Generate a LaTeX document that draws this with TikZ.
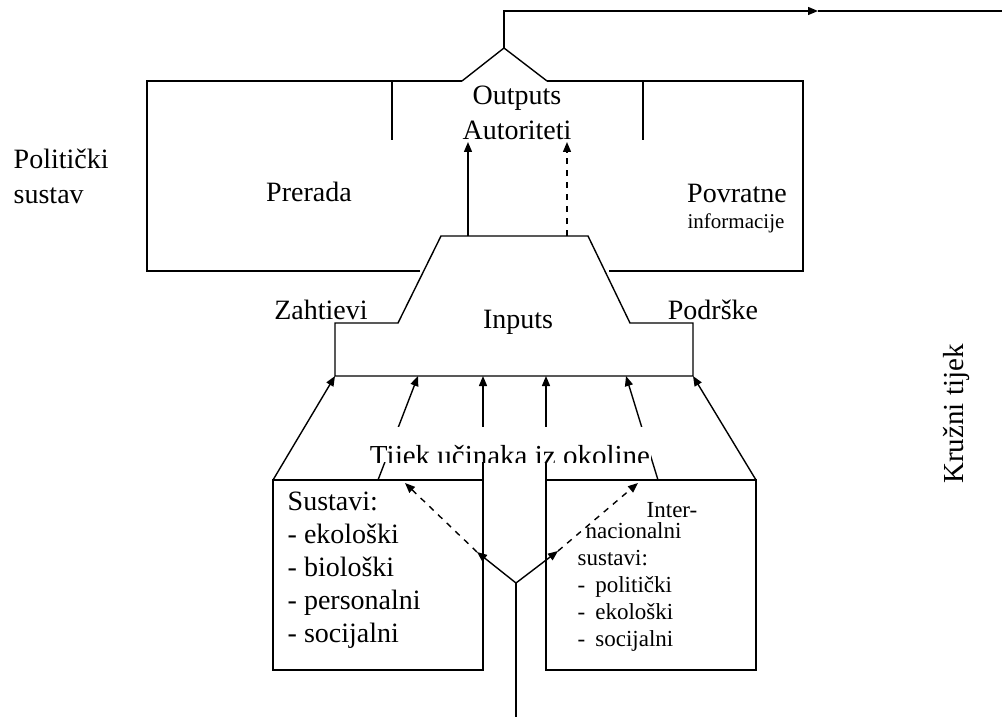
\documentclass[tikz,border=0pt]{standalone}
\usepackage{fontspec}
\setmainfont{Liberation Serif}
\usetikzlibrary{arrows.meta}
\tikzset{
    lbl/.style={font=\fontsize{14}{16.5}\selectfont, inner sep=0pt},
    sml/.style={font=\fontsize{11.5}{13.5}\selectfont, inner sep=0pt},
    tip/.style={-{Triangle[length=5pt,width=4pt]}},
}
\begin{document}
\begin{tikzpicture}[x=0.5pt,y=-0.5pt,line width=0.7pt]
                        \useasboundingbox (0,0) rectangle (1002,717);
                        % top: outputs and the loop back
                        \coordinate (peak) at (504,48);
                        \coordinate (tl) at (462,81);
                        \coordinate (tr) at (547,81);
                        \coordinate (loop) at (504,11);
                        \coordinate (looptip) at (818,11);
                        \coordinate (loopend) at (1002,11);
                        \draw (tl) -- (peak) -- (tr);
                        \draw[tip] (peak) -- (loop) -- (looptip);
                        \draw (looptip) -- (loopend);
                        % political system box
                        \draw (tl) -- (147,81) -- (147,271) -- (420,271);
                        \draw (tr) -- (803,81) -- (803,271) -- (609,271);
                        \draw (392,81) -- (392,140);
                        \draw (643,81) -- (643,140);
                        \node[lbl] (outputs) at (517,98) {Outputs};
                        \node[lbl] (autor) at (517,130) {Autoriteti};
                        \node[lbl] (prerada) at (309,192) {Prerada};
                        \node[lbl] (povratne) at (737,193) {Povratne};
                        \node[font=\fontsize{10.5}{12}\selectfont] (info) at (736,223) {informacije};
                        \node[lbl, align=left, anchor=west, font=\fontsize{14}{17.5}\selectfont] (polsus) at (13,176) {Politički\\sustav};
                        % inputs
                        \draw (441,236) -- (588,236) -- (630,323) -- (693,323) -- (693,376)
                              -- (335,376) -- (335,323) -- (398,323) -- cycle;
                        \coordinate (solidA) at (468,236);
                        \coordinate (solidB) at (468,142);
                        \coordinate (dashA) at (567,236);
                        \coordinate (dashB) at (567,142);
                        \draw[tip] (solidA) -- (solidB);
                        \draw[tip, dashed] (dashA) -- (dashB);
                        \node[lbl] (zaht) at (321,310) {Zahtievi};
                        \node[lbl] (podr) at (713,310) {Podrške};
                        \node[lbl] (inputs) at (518,322) {Inputs};
                        % environment
                        \draw (273,480) rectangle (483,670);
                        \draw (546,480) rectangle (756,670);
                        \foreach \a/\b in {273/335, 378/418, 483/483, 546/546, 658/626, 756/693}
                        {
                            \draw[tip] (\a,480) -- (\b,376);
                        }
                        \fill[white] (369,427) rectangle (651,462);
                        \begin{scope}
                            \clip (360,420) rectangle (660,462);
                            \node[lbl, anchor=base, font=\fontsize{14.5}{16.5}\selectfont] (tijek) at (510,465) {Tijek učinaka iz okoline};
                        \end{scope}
                        \node[lbl, align=left, anchor=west] (sustavi) at (287,570)
                            {Sustavi:\\- ekološki\\- biološki\\- personalni\\- socijalni};
                        \node[sml] (inter) at (672,510) {Inter-};
                        \node[sml, align=left, anchor=north west] (intsus) at (577,522)
                            {\hspace{4pt}nacionalni\\sustavi:\\-\hspace{5pt}politički\\-\hspace{5pt}ekološki\\-\hspace{5pt}socijalni};
                        % fork from below
                        \coordinate (bottom) at (516,717);
                        \coordinate (fork) at (516,583);
                        \coordinate (forkL) at (477,552);
                        \coordinate (forkR) at (558,551);
                        \coordinate (dashL) at (405,483);
                        \coordinate (dashR) at (638,483);
                        \draw (bottom) -- (fork);
                        \draw[tip] (fork) -- (forkL);
                        \draw[tip] (fork) -- (forkR);
                        \draw[tip, dashed] (forkL) -- (dashL);
                        \draw[tip, dashed] (forkR) -- (dashR);
                        \node[lbl, rotate=90, font=\fontsize{14.5}{16.5}\selectfont] (kruzni) at (956,414) {Kružni tijek};
                    \end{tikzpicture}
\end{document}
